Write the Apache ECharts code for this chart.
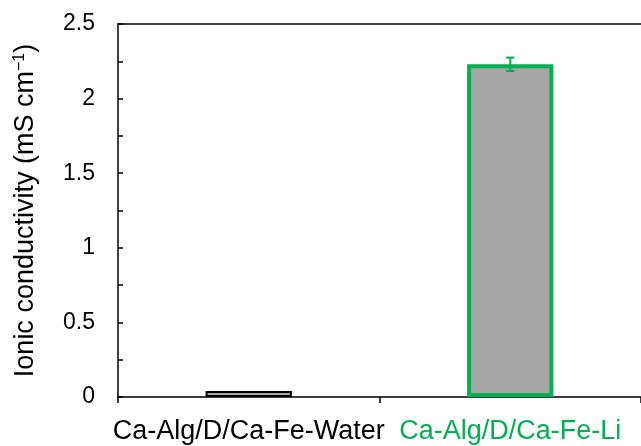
<!DOCTYPE html>
<html>
<head>
<meta charset="utf-8">
<script src="https://cdn.jsdelivr.net/npm/echarts@6/dist/echarts.min.js"></script>
<style>
  html, body { margin: 0; padding: 0; background: #fff; }
  #main { width: 641px; height: 446px; }
</style>
</head>
<body>
<div id="main"></div>
<script>
// data
var categories = ["Ca-Alg/D/Ca-Fe-Water", "Ca-Alg/D/Ca-Fe-Li"];
var conductivity = [0.04, 2.23];
var errors = [0, 0.045];
var borderColors = ["#000000", "#00B050"];
var labelColors = ["#000000", "#00B050"];

var font = "Liberation Sans, Arial, sans-serif";

var myChart = echarts.init(document.getElementById("main"));

var barData = conductivity.map(function (v, i) {
  return {
    value: v,
    itemStyle: { color: "#A6A6A6", borderColor: borderColors[i], borderWidth: i === 1 ? 4 : 2 }
  };
});

var errData = conductivity.map(function (v, i) {
  return [i, v - errors[i], v + errors[i]];
}).filter(function (d, i) { return errors[i] > 0; });

myChart.setOption({
  animation: false,
  grid: { left: 118, right: -1, top: 24, bottom: 49 },
  xAxis: [
    {
      type: "category",
      data: categories,
      axisLine: { lineStyle: { color: "#000", width: 1.5 } },
      axisTick: { show: true, inside: false, length: 6, lineStyle: { color: "#000", width: 1.5 } },
      axisLabel: {
        interval: 0,
        hideOverlap: false,
        fontFamily: font,
        fontSize: 27,
        margin: 21,
        color: function (value, index) { return labelColors[index]; }
      }
    },
    {
      type: "category",
      position: "top",
      data: categories,
      axisLine: { show: true, lineStyle: { color: "#000", width: 1.5 } },
      axisTick: { show: false },
      axisLabel: { show: false }
    }
  ],
  yAxis: {
    type: "value",
    min: 0,
    max: 2.5,
    interval: 0.5,
    name: "{n|Ionic conductivity (mS cm}{s|−1}{n|)}",
    nameLocation: "middle",
    nameGap: 78,
    nameTextStyle: {
      rich: {
        n: { fontFamily: font, fontSize: 27, color: "#000" },
        s: { fontFamily: font, fontSize: 16, color: "#000", verticalAlign: "top", padding: [0, 0, 12, 0] }
      }
    },
    axisLine: { show: true, lineStyle: { color: "#000", width: 1.5 } },
    axisTick: { show: true, inside: true, length: 5, lineStyle: { color: "#000", width: 1.5 } },
    minorTick: { show: true, splitNumber: 2, length: 5, lineStyle: { color: "#000", width: 1.5 } },
    splitLine: { show: false },
    axisLabel: {
      fontFamily: font,
      fontSize: 23,
      color: "#000",
      margin: 23,
      formatter: function (v) { return String(v); }
    }
  },
  series: [
    {
      type: "bar",
      data: barData,
      barWidth: "33%"
    },
    {
      type: "custom",
      data: errData,
      z: 10,
      renderItem: function (params, api) {
        var x = api.value(0);
        var lo = api.coord([x, api.value(1)]);
        var hi = api.coord([x, api.value(2)]);
        var cap = 4;
        var style = { stroke: "#00B050", lineWidth: 2 };
        return {
          type: "group",
          children: [
            { type: "line", shape: { x1: hi[0], y1: hi[1], x2: lo[0], y2: lo[1] }, style: style },
            { type: "line", shape: { x1: hi[0] - cap, y1: hi[1], x2: hi[0] + cap, y2: hi[1] }, style: style },
            { type: "line", shape: { x1: lo[0] - cap, y1: lo[1], x2: lo[0] + cap, y2: lo[1] }, style: style }
          ]
        };
      }
    }
  ]
});
</script>
</body>
</html>
